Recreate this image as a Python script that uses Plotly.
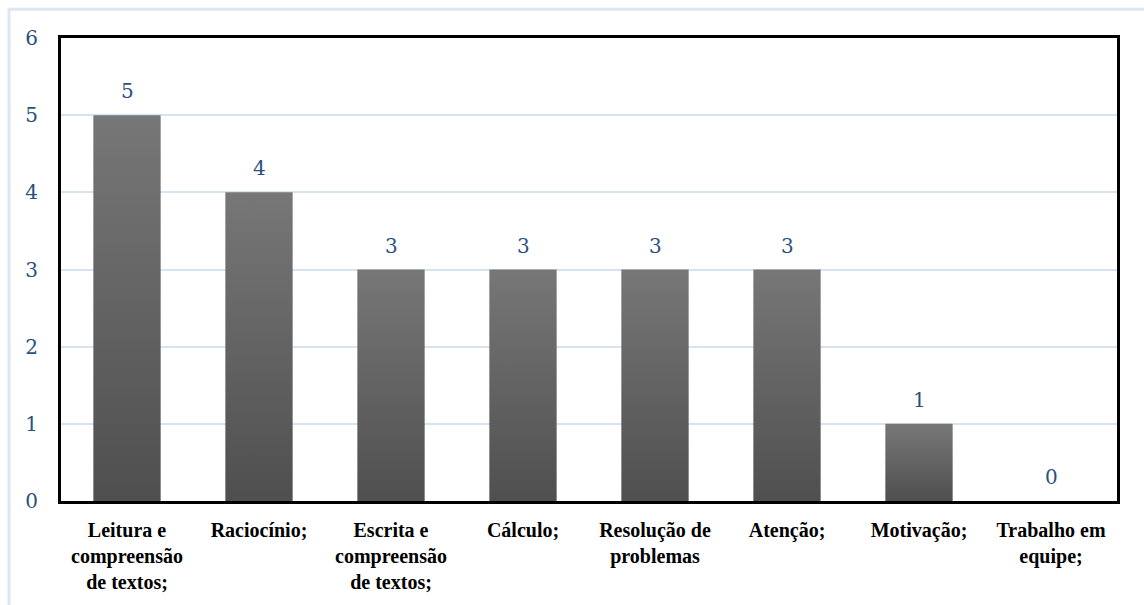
import plotly.graph_objects as go

# Habilidades citadas e número de respostas
categorias = [
    "Leitura e<br>compreensão<br>de textos;",
    "Raciocínio;",
    "Escrita e<br>compreensão<br>de textos;",
    "Cálculo;",
    "Resolução de<br>problemas",
    "Atenção;",
    "Motivação;",
    "Trabalho em<br>equipe;",
]
valores = [5, 4, 3, 3, 3, 3, 1, 0]
y_ticks = [0, 1, 2, 3, 4, 5, 6]

BAR_HALF = 0.255
NUM_COLOR = "#2b4f80"
GRID_COLOR = "#d7e3f3"
NUM_FONT = dict(family="DejaVu Serif", size=20, color=NUM_COLOR)

fig = go.Figure()

# Each column is a filled shape with a vertical grey gradient
for i, v in enumerate(valores):
    if v <= 0:
        continue
    fig.add_trace(go.Scatter(
        x=[i - BAR_HALF, i + BAR_HALF, i + BAR_HALF, i - BAR_HALF, i - BAR_HALF],
        y=[0, 0, v, v, 0],
        mode="lines",
        line=dict(width=0),
        fill="toself",
        fillgradient=dict(
            type="vertical",
            colorscale=[[0, "#4f4f4f"], [1, "#777777"]],
        ),
        hoverinfo="skip",
        showlegend=False,
    ))

# Value labels above the columns
annotations = [
    dict(
        x=i, y=v, xref="x", yref="y",
        text=str(v),
        showarrow=False,
        yanchor="bottom",
        yshift=10,
        font=NUM_FONT,
    )
    for i, v in enumerate(valores)
]

fig.update_layout(
    width=1144,
    height=605,
    margin=dict(l=61, r=27, t=38, b=98),
    paper_bgcolor="white",
    plot_bgcolor="white",
    xaxis=dict(
        range=[-0.5, len(categorias) - 0.5],
        tickmode="array",
        tickvals=list(range(len(categorias))),
        ticktext=["<b>" + c.replace("<br>", "</b><br><b>") + "</b>" for c in categorias],
        tickfont=dict(family="Liberation Serif, Times New Roman, serif", size=20, color="black"),
        showgrid=False,
        zeroline=False,
        showline=True,
        linecolor="black",
        linewidth=3,
        mirror=True,
        ticks="",
        ticklabelstandoff=9,
        fixedrange=True,
    ),
    yaxis=dict(
        range=[0, 6],
        tickmode="array",
        tickvals=y_ticks,
        ticktext=[str(t) for t in y_ticks],
        tickfont=NUM_FONT,
        showgrid=True,
        gridcolor=GRID_COLOR,
        gridwidth=2,
        zeroline=False,
        showline=True,
        linecolor="black",
        linewidth=3,
        mirror=True,
        ticks="",
        ticklabelstandoff=16,
        fixedrange=True,
    ),
    annotations=annotations,
    shapes=[
        # light frame around the chart area
        dict(
            type="rect",
            xref="paper", yref="paper",
            x0=(9 - 61) / 1056, x1=1.2,
            y0=-0.5, y1=(507 - 9) / 469,
            line=dict(color="#dce7f4", width=3),
            fillcolor="rgba(0,0,0,0)",
            layer="below",
        ),
    ],
)

fig.write_html("out.html")
